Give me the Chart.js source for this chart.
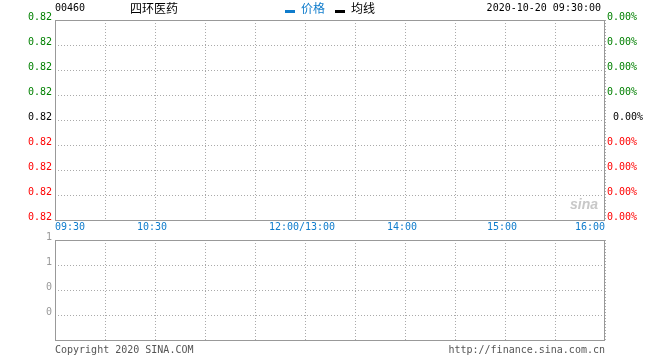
<!DOCTYPE html>
<html>
<head>
<meta charset="utf-8">
<script src="https://cdn.jsdelivr.net/npm/chart.js@4/dist/chart.umd.min.js"></script>
<style>
  html, body { margin: 0; padding: 0; background: #fff; }
  #wrap { position: relative; width: 660px; height: 360px; overflow: hidden; }
  canvas { position: absolute; left: 0; }
  .t { position: absolute; white-space: pre; font-family: 'DejaVu Sans Mono', monospace; font-size: 10px; line-height: 12px; }
  .cjk { font-family: 'Noto Sans CJK SC', sans-serif; font-size: 12px; line-height: 14px; }
  .bar { position: absolute; width: 10px; height: 3px; }
</style>
</head>
<body>
<div id="wrap">
  <canvas id="main" width="660" height="236" style="top:0"></canvas>
  <canvas id="vol" width="660" height="129" style="top:231px"></canvas>

  <div class="t" id="code" style="left:55px; top:2px; color:#000"></div>
  <div class="t cjk" id="name" style="left:130px; top:1px; color:#000"></div>
  <div class="bar" style="left:285px; top:10px; background:#0f7ccc"></div>
  <div class="t cjk" id="lg1" style="left:301px; top:1px; color:#0f7ccc"></div>
  <div class="bar" style="left:335px; top:10px; background:#000"></div>
  <div class="t cjk" id="lg2" style="left:351px; top:1px; color:#000"></div>
  <div class="t" id="stamp" style="right:59px; top:2px; color:#000"></div>
  <div class="t" style="left:570px; top:196px; color:#c8c8c8; font-family:'Liberation Sans',sans-serif; font-size:14px; font-style:italic; font-weight:bold; line-height:16px">sina</div>
  <div class="t" id="copy" style="left:55px; top:344px; color:#555"></div>
  <div class="t" id="site" style="right:55px; top:344px; color:#555"></div>
</div>
<script>
// ---------- data ----------
const stockCode = '00460';
const stockName = '四环医药';
const seriesNames = ['价格', '均线'];
const timestamp = '2020-10-20 09:30:00';
const copyrightText = 'Copyright 2020 SINA.COM';
const siteText = 'http://finance.sina.com.cn';

// trading minutes from 09:30 (HK session 09:30-12:00, 13:00-16:00)
const timeTickMinutes = [0, 60, 150, 210, 270, 330];
const timeTickLabels = ['09:30', '10:30', '12:00/13:00', '14:00', '15:00', '16:00'];
const sessionMinutes = 330;
const gridStepMinutes = 30;

// price axis labels (top to bottom)
const priceTickLabels = ['0.82', '0.82', '0.82', '0.82', '0.82', '0.82', '0.82', '0.82', '0.82'];
const pctTickLabels = ['0.00%', '0.00%', '0.00%', '0.00%', ' 0.00%', '0.00%', '0.00%', '0.00%', '0.00%'];
// volume axis labels (top to bottom, bottom line unlabeled)
const volTickLabels = ['1', '1', '0', '0', ''];

// no trades yet at 09:30:00
const priceSeries = [];
const avgSeries = [];
const volumeSeries = [];

// ---------- text ----------
document.getElementById('code').textContent = stockCode;
document.getElementById('name').textContent = stockName;
document.getElementById('lg1').textContent = seriesNames[0];
document.getElementById('lg2').textContent = seriesNames[1];
document.getElementById('stamp').textContent = timestamp;
document.getElementById('copy').textContent = copyrightText;
document.getElementById('site').textContent = siteText;

// ---------- styles ----------
const GREEN = '#008000', RED = '#ff0000', BLUE = '#0f7ccc';
const GRID = '#aaaaaa', BORDER = '#999999';
const FONT = { family: "'DejaVu Sans Mono', monospace", size: 10 };

const frame = {
  id: 'frame',
  afterDraw(chart) {
    const a = chart.chartArea, ctx = chart.ctx;
    ctx.save();
    ctx.strokeStyle = BORDER;
    ctx.lineWidth = 1;
    ctx.strokeRect(Math.round(a.left) + 0.5, Math.round(a.top) + 0.5,
                   Math.round(a.right - a.left) - 1, Math.round(a.bottom - a.top));
    ctx.restore();
  }
};

function minuteTicks(scale) {
  const t = [];
  for (let m = 0; m <= sessionMinutes; m += gridStepMinutes) t.push({ value: m });
  scale.ticks = t;
}
const nHalf = (priceTickLabels.length - 1) / 2;
function signColor(v, base) { return v > 0 ? GREEN : (v < 0 ? RED : base); }

new Chart(document.getElementById('main'), {
  type: 'line',
  data: {
    datasets: [
      { label: seriesNames[0], data: priceSeries, borderColor: BLUE, borderWidth: 1, pointRadius: 0 },
      { label: seriesNames[1], data: avgSeries, borderColor: '#000', borderWidth: 1, pointRadius: 0 }
    ]
  },
  options: {
    responsive: false, animation: false, devicePixelRatio: 1,
    layout: { padding: { top: 20, left: 0, right: 0, bottom: 0 } },
    plugins: { legend: { display: false }, tooltip: { enabled: false } },
    scales: {
      x: {
        type: 'linear', min: 0, max: sessionMinutes, offset: false,
        afterBuildTicks: minuteTicks,
        afterFit(s) { s.height = 16; },
        grid: { color: GRID, drawTicks: false, lineWidth: 1 },
        border: { display: false, dash: [1, 2] },
        ticks: {
          autoSkip: false, maxRotation: 0, align: 'inner', padding: 1,
          color: BLUE, font: FONT,
          callback(v) {
            const i = timeTickMinutes.indexOf(v);
            if (i < 0) return '';
            return (i === 0 || i === timeTickMinutes.length - 1) ? timeTickLabels[i] : timeTickLabels[i] + ' ';
          }
        }
      },
      y: {
        position: 'left', min: -nHalf, max: nHalf,
        afterBuildTicks(s) { s.ticks = priceTickLabels.map((_, i) => ({ value: nHalf - i })); },
        afterFit(s) { s.width = 55; },
        grid: { color: GRID, drawTicks: false },
        border: { display: false, dash: [1, 2] },
        ticks: {
          padding: 3, labelOffset: -3, font: FONT,
          color: c => signColor(c.tick.value, '#000'),
          callback: v => priceTickLabels[nHalf - v]
        }
      },
      y2: {
        position: 'right', min: -nHalf, max: nHalf,
        afterBuildTicks(s) { s.ticks = pctTickLabels.map((_, i) => ({ value: nHalf - i })); },
        afterFit(s) { s.width = 55; },
        grid: { display: false, drawTicks: false },
        border: { display: false },
        ticks: {
          padding: 2, labelOffset: -3, font: FONT,
          color: c => signColor(c.tick.value, '#000'),
          callback: v => pctTickLabels[nHalf - v]
        }
      }
    }
  },
  plugins: [frame]
});

const nVol = volTickLabels.length - 1;
new Chart(document.getElementById('vol'), {
  type: 'bar',
  data: {
    datasets: [{ label: '成交量', data: volumeSeries, backgroundColor: BLUE }]
  },
  options: {
    responsive: false, animation: false, devicePixelRatio: 1,
    layout: { padding: { top: 9, left: 0, right: 55, bottom: 0 } },
    plugins: { legend: { display: false }, tooltip: { enabled: false } },
    scales: {
      x: {
        type: 'linear', min: 0, max: sessionMinutes, offset: false,
        afterBuildTicks: minuteTicks,
        afterFit(s) { s.height = 20; },
        grid: { color: GRID, drawTicks: false, offset: false },
        border: { display: false, dash: [1, 2] },
        ticks: { display: false }
      },
      y: {
        position: 'left', min: 0, max: nVol,
        afterBuildTicks(s) { s.ticks = volTickLabels.map((_, i) => ({ value: nVol - i })); },
        afterFit(s) { s.width = 55; },
        grid: { color: GRID, drawTicks: false },
        border: { display: false, dash: [1, 2] },
        ticks: {
          padding: 3, labelOffset: -3, font: FONT, color: '#999999',
          callback: v => volTickLabels[nVol - v]
        }
      }
    }
  },
  plugins: [frame]
});
</script>
</body>
</html>
